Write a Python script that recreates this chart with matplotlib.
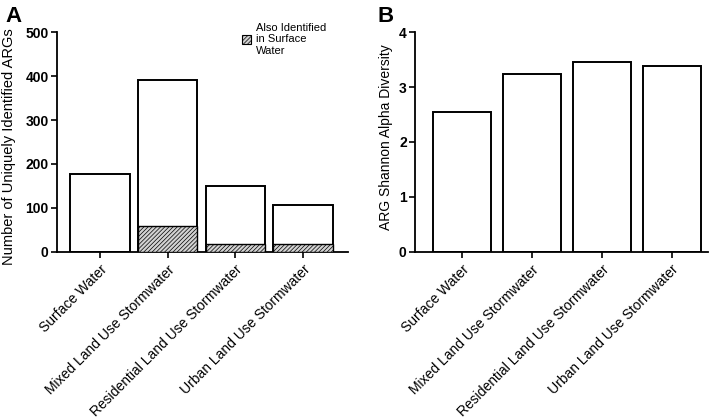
import matplotlib
matplotlib.use("Agg")
import matplotlib.pyplot as plt
from matplotlib.patches import Patch
import numpy as np

plt.rcParams['font.family'] = ['Liberation Sans', 'DejaVu Sans']
plt.rcParams['hatch.color'] = '#707070'
plt.rcParams['hatch.linewidth'] = 0.5

categories = ["Surface Water", "Mixed Land Use Stormwater",
              "Residential Land Use Stormwater", "Urban Land Use Stormwater"]
unique_args = [178, 390, 149, 106]
shared_with_surface = [0, 60, 18, 18]
shannon = [2.54, 3.23, 3.45, 3.39]
legend_label = "Also Identified\nin Surface\nWater"

fig = plt.figure(figsize=(7.09, 4.19), dpi=100)
axA = fig.add_axes([0.0804, 0.3986, 0.4104, 0.525])
axB = fig.add_axes([0.5853, 0.3986, 0.4133, 0.525])

x = np.arange(len(categories))

def style(ax):
    for s in ['top', 'right']:
        ax.spines[s].set_visible(False)
    for s in ['left', 'bottom']:
        ax.spines[s].set_linewidth(1.3)
    ax.tick_params(axis='both', direction='out', length=4, width=1.2)
    ax.tick_params(axis='y', pad=2)
    ax.set_xticks(x)
    ax.set_xticklabels(categories, rotation=45, ha='right', rotation_mode='anchor', fontsize=10)
    for lab in ax.get_yticklabels():
        lab.set_fontweight('bold')
        lab.set_fontsize(10)

axA.bar(x, unique_args, width=0.88, facecolor='white', edgecolor='black', linewidth=1.4, zorder=2)
axA.bar(x, shared_with_surface, width=0.88, facecolor='#d2d2d2', edgecolor='black',
        linewidth=1.0, hatch='////////', zorder=3)
axA.set_xlim(-0.635, 3.665)
axA.set_ylim(0, 500)
axA.set_yticks([0, 100, 200, 300, 400, 500])
axA.set_ylabel("Number of Uniquely Identified ARGs", fontsize=10.5)
axA.yaxis.set_label_coords(-0.142, 0.477)
style(axA)
leg = axA.legend(handles=[Patch(facecolor='#d2d2d2', edgecolor='black', hatch='////////', linewidth=0.8)],
                 labels=[legend_label], loc='upper left', bbox_to_anchor=(0.603, 1.087),
                 frameon=False, fontsize=8, handlelength=0.8, handleheight=0.8,
                 handletextpad=0.4)

axB.bar(x, shannon, width=0.83, facecolor='white', edgecolor='black', linewidth=1.4, zorder=2)
axB.set_xlim(-0.67, 3.52)
axB.set_ylim(0, 4)
axB.set_yticks([0, 1, 2, 3, 4])
axB.set_ylabel("ARG Shannon Alpha Diversity", fontsize=10)
axB.yaxis.set_label_coords(-0.075, 0.52)
style(axB)

fig.text(0.007, 0.985, "A", fontsize=16, fontweight='bold', va='top', ha='left')
fig.text(0.532, 0.985, "B", fontsize=16, fontweight='bold', va='top', ha='left')

fig.savefig("out.png", dpi=100)
